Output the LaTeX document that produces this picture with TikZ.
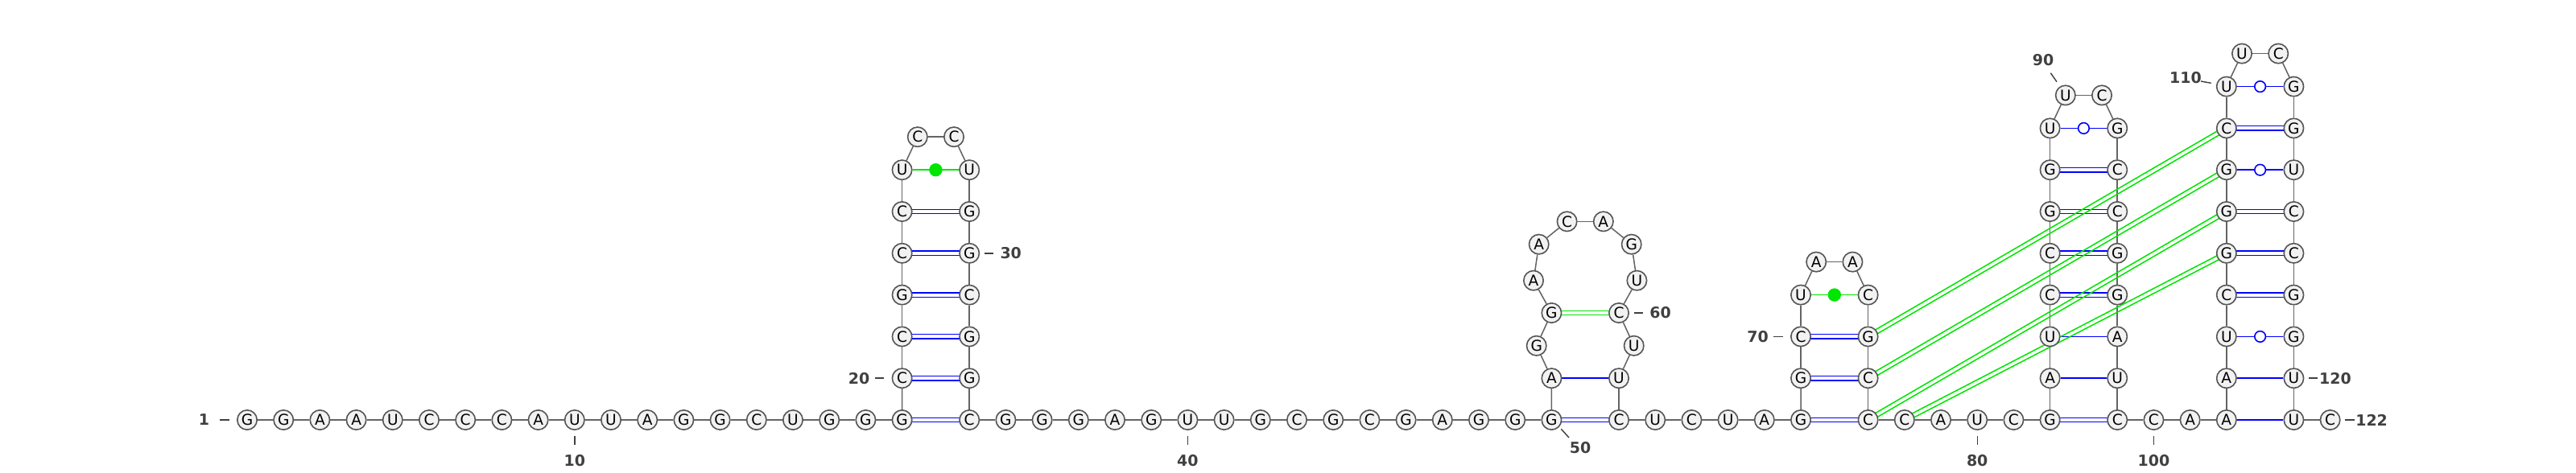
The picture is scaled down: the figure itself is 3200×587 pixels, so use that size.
\documentclass[tikz,border=0pt]{standalone}
\usepackage{fontspec}
\usetikzlibrary{calc,backgrounds}
\newfontfamily\ntFont{DejaVu Sans}
\definecolor{rnaFill}{RGB}{242,242,242}
\definecolor{rnaBorder}{RGB}{85,85,85}
\definecolor{rnaBackbone}{RGB}{100,100,100}
\definecolor{rnaBlue}{RGB}{0,0,255}
\definecolor{rnaGreen}{RGB}{0,230,0}
\definecolor{rnaLabel}{RGB}{64,64,64}
% two parallel strokes for a G-C pair
\newcommand{\gcbond}[3][rnaBlue]{%
  \draw[bond,#1] ($(#2)!0.68mm!90:(#3)$) -- ($(#3)!0.68mm!-90:(#2)$);
  \draw[bond,#1] ($(#2)!0.68mm!-90:(#3)$) -- ($(#3)!0.68mm!90:(#2)$);}

\begin{document}
\begin{tikzpicture}[
  x=0.25mm, y=-0.25mm,
  nt/.style={
    circle,
    draw=rnaBorder,
    fill=rnaFill,
    line width=0.4mm,
    minimum size=6.1mm,
    inner sep=0pt,
    font=\ntFont\fontsize{13.2pt}{13.2pt}\selectfont
  },
  backbone/.style={draw=rnaBackbone,line width=0.38mm},
  bond/.style={line width=0.38mm},
  wobble/.style={circle,draw=rnaBlue,fill=white,line width=0.4mm,minimum size=3.4mm,inner sep=0pt},
  ncdot/.style={circle,fill=rnaGreen,minimum size=4.1mm,inner sep=0pt},
  numtick/.style={draw=rnaLabel,line width=0.36mm},
  num/.style={inner sep=0pt,text=rnaLabel,font=\ntFont\bfseries\fontsize{13.5pt}{13.5pt}\selectfont}
]
  \useasboundingbox (0,0) rectangle (3200,587);

  % 5' tail, 1-19
  \foreach \b [count=\i] in {G,G,A,A,U,C,C,C,A,U,U,A,G,G,C,U,G,G,G}
    \node[nt] (n\i) at ({307+(\i-1)*45.2},522) {\b};
  % hairpin 1, 20-34
  \foreach \b [count=\k] in {C,C,G,C,C,U}{
    \pgfmathtruncatemacro{\i}{19+\k}
    \node[nt] (n\i) at (1120.6,{522-\k*51.8}) {\b};}
  \node[nt] (n26) at (1139.8,170.2) {C};
  \node[nt] (n27) at (1185.0,170.2) {C};
  \foreach \b [count=\k] in {U,G,G,C,G,G,C}{
    \pgfmathtruncatemacro{\i}{27+\k}
    \node[nt] (n\i) at (1204.2,{522-(7-\k)*51.8}) {\b};}
  % linker, 35-50
  \foreach \b [count=\k] in {G,G,G,A,G,U,U,G,C,G,C,G,A,G,G,G}{
    \pgfmathtruncatemacro{\i}{34+\k}
    \node[nt] (n\i) at ({1204.2+\k*45.2},522) {\b};}
  % hairpin 2 with internal loop, 51-63
  \node[nt] (n51) at (1927.4,470.2) {A};
  \node[nt] (n52) at (1908.7,429.8) {G};
  \node[nt] (n53) at (1927.4,389.0) {G};
  \node[nt] (n54) at (1905.0,348.7) {A};
  \node[nt] (n55) at (1911.7,303.7) {A};
  \node[nt] (n56) at (1946.6,275.3) {C};
  \node[nt] (n57) at (1991.8,275.3) {A};
  \node[nt] (n58) at (2026.7,303.7) {G};
  \node[nt] (n59) at (2033.4,348.7) {U};
  \node[nt] (n60) at (2011.0,389.0) {C};
  \node[nt] (n61) at (2029.7,429.8) {U};
  \node[nt] (n62) at (2011.0,470.2) {U};
  \node[nt] (n63) at (2011.0,522.0) {C};
  % 64-68
  \foreach \b [count=\k] in {U,C,U,A,G}{
    \pgfmathtruncatemacro{\i}{63+\k}
    \node[nt] (n\i) at ({2011+\k*45.2},522) {\b};}
  % hairpin 3, 69-77
  \foreach \b [count=\k] in {G,C,U}{
    \pgfmathtruncatemacro{\i}{68+\k}
    \node[nt] (n\i) at (2237.0,{522-\k*51.8}) {\b};}
  \node[nt] (n72) at (2256.2,325.6) {A};
  \node[nt] (n73) at (2301.4,325.6) {A};
  \foreach \b [count=\k] in {C,G,C,C}{
    \pgfmathtruncatemacro{\i}{73+\k}
    \node[nt] (n\i) at (2320.6,{522-(4-\k)*51.8}) {\b};}
  % 78-82
  \foreach \b [count=\k] in {C,A,U,C,G}{
    \pgfmathtruncatemacro{\i}{77+\k}
    \node[nt] (n\i) at ({2320.6+\k*45.2},522) {\b};}
  % hairpin 4, 83-99
  \foreach \b [count=\k] in {A,U,C,C,G,G,U}{
    \pgfmathtruncatemacro{\i}{82+\k}
    \node[nt] (n\i) at (2546.6,{522-\k*51.8}) {\b};}
  \node[nt] (n90) at (2565.8,118.4) {U};
  \node[nt] (n91) at (2611.0,118.4) {C};
  \foreach \b [count=\k] in {G,C,C,G,G,A,U,C}{
    \pgfmathtruncatemacro{\i}{91+\k}
    \node[nt] (n\i) at (2630.2,{522-(8-\k)*51.8}) {\b};}
  % 100-102
  \foreach \b [count=\k] in {C,A,A}{
    \pgfmathtruncatemacro{\i}{99+\k}
    \node[nt] (n\i) at ({2630.2+\k*45.2},522) {\b};}
  % hairpin 5, 103-121
  \foreach \b [count=\k] in {A,U,C,G,G,G,C,U}{
    \pgfmathtruncatemacro{\i}{102+\k}
    \node[nt] (n\i) at (2765.8,{522-\k*51.8}) {\b};}
  \node[nt] (n111) at (2785.0,66.6) {U};
  \node[nt] (n112) at (2830.2,66.6) {C};
  \foreach \b [count=\k] in {G,G,U,C,C,G,G,U,U}{
    \pgfmathtruncatemacro{\i}{112+\k}
    \node[nt] (n\i) at (2849.4,{522-(9-\k)*51.8}) {\b};}
  \node[nt] (n122) at (2894.6,522) {C};

  \begin{pgfonlayer}{background}
    \fill[white] (0,0) rectangle (3200,587);
    % backbone
    \foreach \i [remember=\i as \last (initially 1)] in {2,...,122}
      \draw[backbone] (n\last) -- (n\i);
    % G-C pairs
    \foreach \a/\b in {19/34,20/33,21/32,22/31,23/30,24/29,50/63,68/77,69/76,70/75,
                       82/99,85/96,86/95,87/94,88/93,105/118,106/117,107/116,109/114}{
      \gcbond{n\a}{n\b}}
    % A-U pairs
    \foreach \a/\b in {51/62,83/98,84/97,102/121,103/120}
      \draw[bond,rnaBlue] (n\a) -- (n\b);
    % G-U wobble pairs
    \foreach \a/\b in {89/92,104/119,108/115,110/113}
      \draw[bond,rnaBlue] (n\a) -- node[wobble] {} (n\b);
    % non-canonical pairs
    \foreach \a/\b in {25/28,71/74}
      \draw[bond,rnaGreen] (n\a) -- node[ncdot] {} (n\b);
    \gcbond[rnaGreen]{n53}{n60}
    % pseudoknot
    \foreach \a/\b in {75/109,76/108,77/107,78/106}{
      \gcbond[rnaGreen]{n\a}{n\b}}
  \end{pgfonlayer}

  % numbering
  \foreach \i in {10,40,80,100}{
    \draw[numtick] ($(n\i)+(0,19.5)$) -- ($(n\i)+(0,30.5)$);
    \node[num] (lab\i) at ($(n\i)+(0,51)$) {\i};}
  \foreach \i in {30,60,120,122}{
    \draw[numtick] ($(n\i)+(18.5,0)$) -- ($(n\i)+(30,0)$);
    \node[num] (lab\i) at ($(n\i)+(51.5,0)$) {\i};}
  \foreach \i in {1,20,70}{
    \draw[numtick] ($(n\i)+(-34,0)$) -- ($(n\i)+(-22.5,0)$);
    \node[num] (lab\i) at ($(n\i)+(-53.5,0)$) {\i};}
  \draw[numtick] ($(n50)+(11.9,11.3)$) -- ($(n50)+(21.6,22)$);
  \node[num] (lab50) at ($(n50)+(35.6,35)$) {50};
  \draw[numtick] ($(n90)+(-18.5,-27.7)$) -- ($(n90)+(-10.8,-16.7)$);
  \node[num] (lab90) at ($(n90)+(-27.8,-43.4)$) {90};
  \draw[numtick] ($(n110)+(-31.8,-6.6)$) -- ($(n110)+(-19.1,-4.3)$);
  \node[num] (lab110) at ($(n110)+(-50.8,-10.6)$) {110};
\end{tikzpicture}
\end{document}
